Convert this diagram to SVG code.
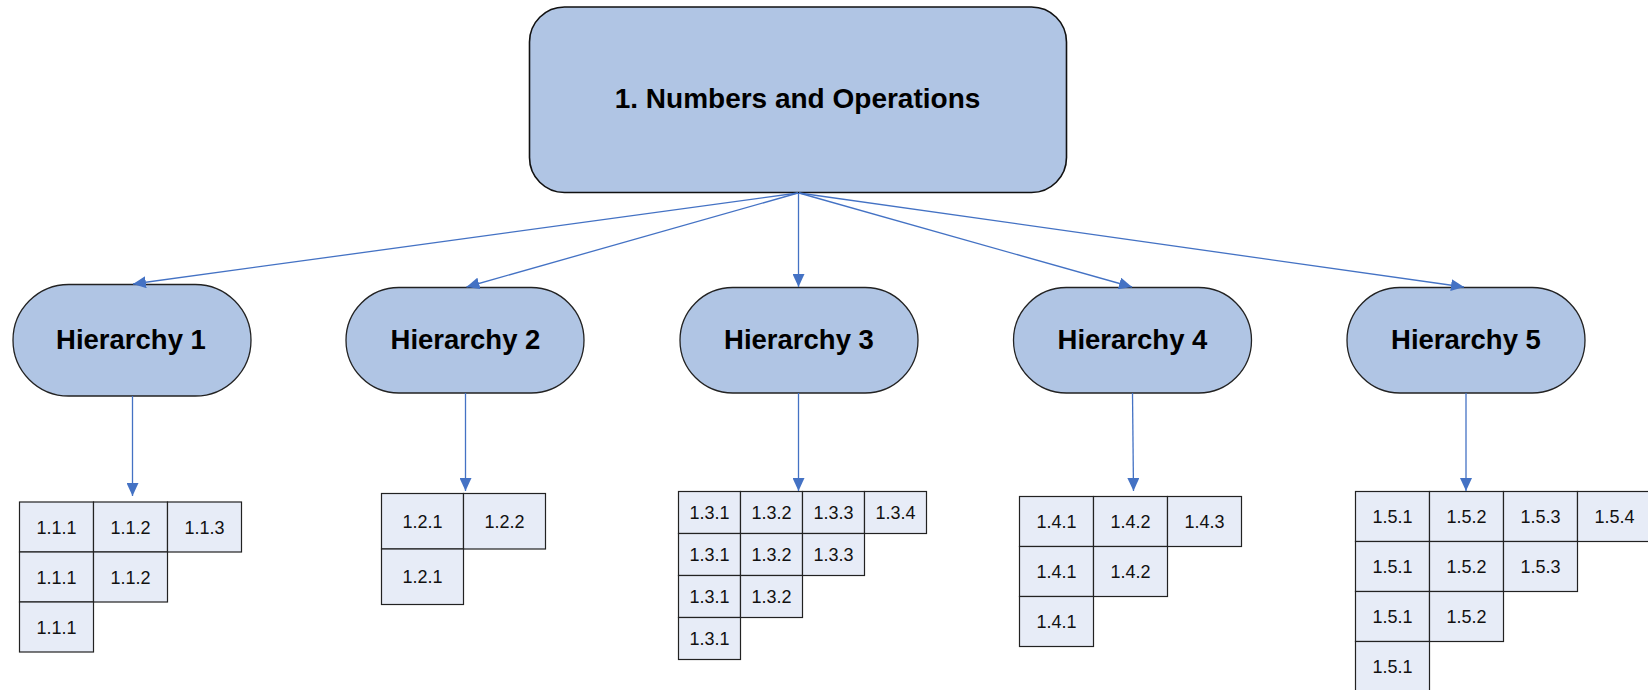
<svg xmlns="http://www.w3.org/2000/svg" width="1648" height="690" viewBox="0 0 1648 690">
  <style>
    .root { fill: #B0C5E4; stroke: #111; stroke-width: 1.6; }
    .hier { fill: #B0C5E4; stroke: #222; stroke-width: 1.3; }
    .title { font-family: "Liberation Sans", Arial, sans-serif; font-weight: bold; font-size: 28px; fill: #000; text-anchor: middle; }
    .htext { font-family: "Liberation Sans", Arial, sans-serif; font-weight: bold; font-size: 27.5px; fill: #000; text-anchor: middle; }
    .cell rect { fill: #E7ECF7; stroke: #222; stroke-width: 1.2; }
    .cell text { font-family: "Liberation Sans", Arial, sans-serif; font-size: 18px; fill: #111; text-anchor: middle; }
    .conn line { stroke: #4472C4; stroke-width: 1.3; fill: none; marker-end: url(#arrow); }
  </style>
  <defs>
    <marker id="arrow" markerUnits="userSpaceOnUse" markerWidth="13" markerHeight="12" refX="13" refY="6" orient="auto" viewBox="0 0 13 12">
      <path d="M0,0 L13,6 L0,12 z" fill="#4472C4"/>
    </marker>
  </defs>

  <rect width="1648" height="690" fill="#fff"/>

  <!-- root topic -->
  <g id="root">
    <rect class="root" x="529.5" y="7" width="537" height="185.5" rx="35" ry="35"/>
    <text class="title" x="797.5" y="108">1. Numbers and Operations</text>
  </g>

  <!-- hierarchy nodes -->
  <g id="hierarchy1">
    <rect class="hier" x="13" y="284.5" width="238" height="111.5" rx="55.75" ry="55.75"/>
    <text class="htext" x="131" y="349">Hierarchy 1</text>
  </g>
  <g id="hierarchy2">
    <rect class="hier" x="346" y="287.5" width="238" height="105.5" rx="52.75" ry="52.75"/>
    <text class="htext" x="465.5" y="349">Hierarchy 2</text>
  </g>
  <g id="hierarchy3">
    <rect class="hier" x="680" y="287.5" width="238" height="105.5" rx="52.75" ry="52.75"/>
    <text class="htext" x="799" y="349">Hierarchy 3</text>
  </g>
  <g id="hierarchy4">
    <rect class="hier" x="1013.5" y="287.5" width="238" height="105.5" rx="52.75" ry="52.75"/>
    <text class="htext" x="1132.5" y="349">Hierarchy 4</text>
  </g>
  <g id="hierarchy5">
    <rect class="hier" x="1347" y="287.5" width="238" height="105.5" rx="52.75" ry="52.75"/>
    <text class="htext" x="1466" y="349">Hierarchy 5</text>
  </g>

  <!-- sub-topic grids -->
  <g id="grid1" class="cell">
    <rect x="19.5" y="502" width="74" height="50"/><text x="56.5" y="533.5">1.1.1</text>
    <rect x="93.5" y="502" width="74" height="50"/><text x="130.5" y="533.5">1.1.2</text>
    <rect x="167.5" y="502" width="74" height="50"/><text x="204.5" y="533.5">1.1.3</text>
    <rect x="19.5" y="552" width="74" height="50"/><text x="56.5" y="583.5">1.1.1</text>
    <rect x="93.5" y="552" width="74" height="50"/><text x="130.5" y="583.5">1.1.2</text>
    <rect x="19.5" y="602" width="74" height="50"/><text x="56.5" y="633.5">1.1.1</text>
  </g>
  <g id="grid2" class="cell">
    <rect x="381.5" y="493.5" width="82" height="55.5"/><text x="422.5" y="527.5">1.2.1</text>
    <rect x="463.5" y="493.5" width="82" height="55.5"/><text x="504.5" y="527.5">1.2.2</text>
    <rect x="381.5" y="549" width="82" height="55.5"/><text x="422.5" y="583">1.2.1</text>
  </g>
  <g id="grid3" class="cell">
    <rect x="678.5" y="491.5" width="62" height="42"/><text x="709.5" y="519">1.3.1</text>
    <rect x="740.5" y="491.5" width="62" height="42"/><text x="771.5" y="519">1.3.2</text>
    <rect x="802.5" y="491.5" width="62" height="42"/><text x="833.5" y="519">1.3.3</text>
    <rect x="864.5" y="491.5" width="62" height="42"/><text x="895.5" y="519">1.3.4</text>
    <rect x="678.5" y="533.5" width="62" height="42"/><text x="709.5" y="561">1.3.1</text>
    <rect x="740.5" y="533.5" width="62" height="42"/><text x="771.5" y="561">1.3.2</text>
    <rect x="802.5" y="533.5" width="62" height="42"/><text x="833.5" y="561">1.3.3</text>
    <rect x="678.5" y="575.5" width="62" height="42"/><text x="709.5" y="603">1.3.1</text>
    <rect x="740.5" y="575.5" width="62" height="42"/><text x="771.5" y="603">1.3.2</text>
    <rect x="678.5" y="617.5" width="62" height="42"/><text x="709.5" y="645">1.3.1</text>
  </g>
  <g id="grid4" class="cell">
    <rect x="1019.5" y="496.5" width="74" height="50"/><text x="1056.5" y="528">1.4.1</text>
    <rect x="1093.5" y="496.5" width="74" height="50"/><text x="1130.5" y="528">1.4.2</text>
    <rect x="1167.5" y="496.5" width="74" height="50"/><text x="1204.5" y="528">1.4.3</text>
    <rect x="1019.5" y="546.5" width="74" height="50"/><text x="1056.5" y="578">1.4.1</text>
    <rect x="1093.5" y="546.5" width="74" height="50"/><text x="1130.5" y="578">1.4.2</text>
    <rect x="1019.5" y="596.5" width="74" height="50"/><text x="1056.5" y="628">1.4.1</text>
  </g>
  <g id="grid5" class="cell">
    <rect x="1355.5" y="491.5" width="74" height="50"/><text x="1392.5" y="523">1.5.1</text>
    <rect x="1429.5" y="491.5" width="74" height="50"/><text x="1466.5" y="523">1.5.2</text>
    <rect x="1503.5" y="491.5" width="74" height="50"/><text x="1540.5" y="523">1.5.3</text>
    <rect x="1577.5" y="491.5" width="74" height="50"/><text x="1614.5" y="523">1.5.4</text>
    <rect x="1355.5" y="541.5" width="74" height="50"/><text x="1392.5" y="573">1.5.1</text>
    <rect x="1429.5" y="541.5" width="74" height="50"/><text x="1466.5" y="573">1.5.2</text>
    <rect x="1503.5" y="541.5" width="74" height="50"/><text x="1540.5" y="573">1.5.3</text>
    <rect x="1355.5" y="591.5" width="74" height="50"/><text x="1392.5" y="623">1.5.1</text>
    <rect x="1429.5" y="591.5" width="74" height="50"/><text x="1466.5" y="623">1.5.2</text>
    <rect x="1355.5" y="641.5" width="74" height="50"/><text x="1392.5" y="673">1.5.1</text>
  </g>

  <!-- connectors -->
  <g id="connectors" class="conn">
    <line x1="798" y1="193" x2="133" y2="284"/>
    <line x1="798" y1="193" x2="466.5" y2="287"/>
    <line x1="798.5" y1="193" x2="798.5" y2="287"/>
    <line x1="799" y1="193" x2="1132" y2="287"/>
    <line x1="799" y1="193" x2="1464" y2="287"/>
    <line x1="132.5" y1="396" x2="132.5" y2="496"/>
    <line x1="465.5" y1="393" x2="465.5" y2="491"/>
    <line x1="798.5" y1="393" x2="798.5" y2="491"/>
    <line x1="1132.5" y1="393" x2="1133.5" y2="491"/>
    <line x1="1466" y1="393" x2="1466" y2="491"/>
  </g>
</svg>
